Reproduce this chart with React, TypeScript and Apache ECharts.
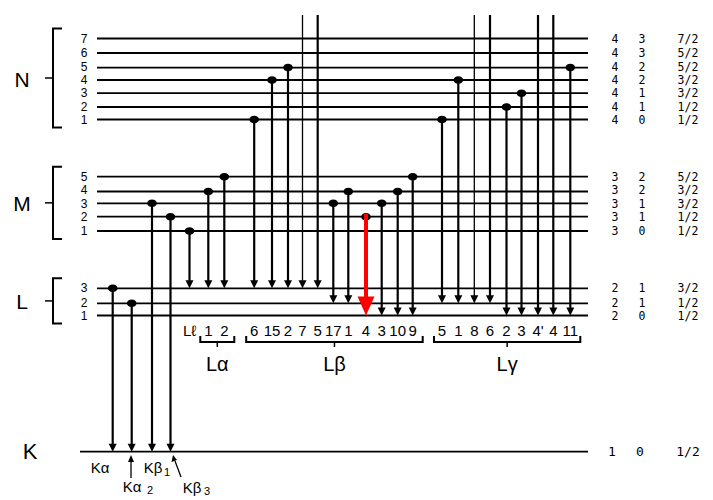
import React, { useEffect, useRef } from 'react';
import * as echarts from 'echarts';

// Energy levels (diagram position, top = high energy)
const levelNames = ['K', 'L1', 'L2', 'L3', 'M1', 'M2', 'M3', 'M4', 'M5', 'N1', 'N2', 'N3', 'N4', 'N5', 'N6', 'N7'];
const levelY = [451.7, 315.5, 303.3, 288.3, 231, 216.7, 203.3, 191.5, 176.7, 119.5, 107, 93.2, 80, 67.6, 53, 38.5];
const levelN = ['1', '2', '2', '2', '3', '3', '3', '3', '3', '4', '4', '4', '4', '4', '4', '4'];
const levelL = ['0', '0', '1', '1', '0', '1', '1', '2', '2', '0', '1', '1', '2', '2', '3', '3'];
const levelJ = ['1/2', '1/2', '1/2', '3/2', '1/2', '1/2', '3/2', '3/2', '5/2', '1/2', '1/2', '3/2', '3/2', '5/2', '5/2', '7/2'];
const outerShellY = 15; // O shell (beyond the top of the diagram)

const shellNames = ['N', 'M', 'L', 'K'];

// Transitions
const lineNames = ['Kα', 'Kα2', 'Kβ1', 'Kβ3', 'Lℓ', '1', '2', '6', '15', '2', '7', '5', '17', '1', '4', '3', '10', '9', '5', '1', '8', '6', '2', '3', "4'", '4', '11'];
const lineX = [112.7, 131.7, 152, 170.5, 189.5, 208.3, 224.3, 254.2, 272, 288, 302.5, 317.7, 333.3, 348.3, 366, 381.7, 397.7, 412.7, 442, 458.3, 474.3, 490, 506.5, 521.5, 538, 553.3, 570.3];
const lineFrom = ['L3', 'L2', 'M3', 'M2', 'M1', 'M4', 'M5', 'N1', 'N4', 'N5', 'O', 'O', 'M3', 'M4', 'M2', 'M3', 'M4', 'M5', 'N1', 'N4', 'O', 'O', 'N2', 'N3', 'O', 'O', 'N5'];
const lineTo = ['K', 'K', 'K', 'K', 'L3', 'L3', 'L3', 'L3', 'L3', 'L3', 'L3', 'L3', 'L2', 'L2', 'L1', 'L1', 'L1', 'L1', 'L2', 'L2', 'L2', 'L2', 'L1', 'L1', 'L1', 'L1', 'L1'];
const highlightIndex = 14; // Lβ4

// Line groups
const groupNames = ['Lα', 'Lβ', 'Lγ'];
const groupFirst = [5, 7, 18];
const groupLast = [6, 17, 26];

const yOf = (name: string) => (name === 'O' ? outerShellY : levelY[levelNames.indexOf(name)]);

const FONT = 'Liberation Sans, Arial, sans-serif';
const MONO = 'DejaVu Sans Mono, monospace';
const QN_SIZE = 11.5;
const MIN_GAP = 13.4;

// spread label positions a little so that stacked labels do not collide
function labelPositions(): number[] {
  const pos = levelY.slice();
  const order = pos.map((_, i) => i).sort((a, b) => pos[a] - pos[b]);
  for (let it = 0; it < 200; it++) {
    for (let k = 0; k < order.length - 1; k++) {
      const a = order[k];
      const b = order[k + 1];
      const gap = pos[b] - pos[a];
      if (gap < MIN_GAP) {
        const d = (MIN_GAP - gap) / 2;
        pos[a] -= d;
        pos[b] += d;
      }
    }
  }
  return pos;
}

export default function App() {
  const ref = useRef<HTMLDivElement>(null);
  useEffect(() => {
    if (!ref.current) return;
    const chart = echarts.init(ref.current, undefined, { renderer: 'svg' });

    const labelY = labelPositions();
    const levelData = levelY.map((y) => [588, y]);
    const lineData = lineX.map((x, i) => [x, yOf(lineFrom[i]), yOf(lineTo[i])]);
    const groupData = groupNames.map((_, g) => [lineX[groupFirst[g]] - 8, 342, lineX[groupLast[g]] + 10]);
    const shellData = shellNames.map((s) => {
      const ys = levelY.filter((_, i) => levelNames[i][0] === s);
      return [53, Math.min(...ys), Math.max(...ys)];
    });

    const option: any = {
      animation: false,
      backgroundColor: '#fff',
      grid: { left: 0, right: 0, top: 0, bottom: 0 },
      xAxis: { type: 'value', min: 0, max: 713, show: false },
      yAxis: { type: 'value', min: 0, max: 500, inverse: true, show: false },
      series: [
        {
          type: 'custom',
          name: 'levels',
          coordinateSystem: 'cartesian2d',
          clip: false,
          encode: { x: 0, y: 1 },
          data: levelData,
          renderItem: (params: any, api: any) => {
            const i = params.dataIndex;
            const y = api.value(1);
            const isK = levelNames[i] === 'K';
            const a = api.coord([isK ? 80 : 97, y]);
            const b = api.coord([api.value(0), y]);
            const sub = levelNames[i].slice(1);
            const children: any[] = [
              { type: 'line', shape: { x1: a[0], y1: a[1], x2: b[0], y2: b[1] }, style: { stroke: '#000', lineWidth: 1.8 } },
            ];
            const txt = (x: number, t: string, size = QN_SIZE, font = MONO) => {
              const p = api.coord([x, labelY[i]]);
              return { type: 'text', x: p[0], y: p[1], style: { text: t, fill: '#000', fontSize: size, fontFamily: font, align: 'center', verticalAlign: 'middle' } };
            };
            if (sub) children.push(txt(84, sub, QN_SIZE + 0.5, FONT));
            children.push(txt(isK ? 612 : 615, levelN[i], isK ? 13 : QN_SIZE));
            children.push(txt(isK ? 640 : 642, levelL[i], isK ? 13 : QN_SIZE));
            children.push(txt(688, levelJ[i], isK ? 13 : QN_SIZE));
            return { type: 'group', children };
          },
          z: 1,
        },
        {
          type: 'custom',
          name: 'shells',
          coordinateSystem: 'cartesian2d',
          clip: false,
          encode: { x: 0, y: [1, 2] },
          data: shellData,
          renderItem: (params: any, api: any) => {
            const s = shellNames[params.dataIndex];
            const x = api.value(0);
            const top = api.coord([x, api.value(1) - 10]);
            const bot = api.coord([x, api.value(2) + 8]);
            const mid = (top[1] + bot[1]) / 2;
            const children: any[] = [];
            if (s !== 'K') {
              children.push({
                type: 'polyline',
                shape: { points: [[top[0] + 9, top[1]], [top[0], top[1]], [bot[0], bot[1]], [bot[0] + 9, bot[1]]] },
                style: { stroke: '#000', lineWidth: 2, fill: null },
              });
              children.push({ type: 'line', shape: { x1: top[0] - 8, y1: mid, x2: top[0], y2: mid }, style: { stroke: '#000', lineWidth: 1.5 } });
              children.push({ type: 'text', x: 22, y: mid + 1, style: { text: s, fill: '#000', fontSize: 21, fontFamily: FONT, align: 'center', verticalAlign: 'middle' } });
            } else {
              const p = api.coord([30, api.value(1)]);
              children.push({ type: 'text', x: p[0], y: p[1], style: { text: s, fill: '#000', fontSize: 22, fontFamily: FONT, align: 'center', verticalAlign: 'middle' } });
            }
            return { type: 'group', children };
          },
        },
        {
          type: 'custom',
          name: 'transitions',
          coordinateSystem: 'cartesian2d',
          clip: false,
          encode: { x: 0, y: [1, 2] },
          data: lineData,
          renderItem: (params: any, api: any) => {
            const i = params.dataIndex;
            const x = api.value(0);
            const p1 = api.coord([x, api.value(1)]);
            const p2 = api.coord([x, api.value(2)]);
            const red = i === highlightIndex;
            const color = red ? '#ff0000' : '#000';
            const ah = red ? 19 : 8;
            const aw = red ? 17 : 8;
            const lw = red ? 4 : lineFrom[i] === 'O' && (i === 10 || i === 20) ? 1.3 : 2.2;
            const children: any[] = [];
            if (lineFrom[i] !== 'O') {
              children.push({ type: 'ellipse', shape: { cx: p1[0], cy: p1[1], rx: 4.8, ry: 3.8 }, style: { fill: '#000' } });
            }
            const startY = red ? p1[1] - 3 : p1[1];
            children.push({ type: 'line', shape: { x1: p1[0], y1: startY, x2: p2[0], y2: p2[1] - ah + 1 }, style: { stroke: color, lineWidth: lw } });
            children.push({
              type: 'polygon',
              shape: { points: [[p2[0] - aw / 2, p2[1] - ah], [p2[0] + aw / 2, p2[1] - ah], [p2[0], p2[1]]] },
              style: { fill: color },
            });
            if (lineTo[i] !== 'K') {
              const q = api.coord([x, 330]);
              children.push({ type: 'text', x: q[0], y: q[1], style: { text: lineNames[i], fill: '#000', fontSize: 15, fontFamily: FONT, align: 'center', verticalAlign: 'middle' } });
            }
            return { type: 'group', children };
          },
          z: 3,
        },
        {
          type: 'custom',
          name: 'groups',
          coordinateSystem: 'cartesian2d',
          clip: false,
          encode: { x: [0, 2], y: 1 },
          data: groupData,
          renderItem: (params: any, api: any) => {
            const g = params.dataIndex;
            const a = api.coord([api.value(0), api.value(1)]);
            const b = api.coord([api.value(2), api.value(1)]);
            const cx = (a[0] + b[0]) / 2;
            return {
              type: 'group',
              children: [
                {
                  type: 'polyline',
                  shape: { points: [[a[0], a[1] - 6], [a[0], a[1]], [b[0], b[1]], [b[0], b[1] - 6]] },
                  style: { stroke: '#000', lineWidth: 2, fill: null },
                },
                { type: 'line', shape: { x1: cx, y1: a[1], x2: cx, y2: a[1] + 5 }, style: { stroke: '#000', lineWidth: 1.5 } },
                { type: 'text', x: cx, y: a[1] + 22, style: { text: groupNames[g], fill: '#000', fontSize: 20, fontFamily: FONT, align: 'center', verticalAlign: 'middle' } },
              ],
            };
          },
        },
      ],
      graphic: [
        { type: 'text', x: 100, y: 467, style: { text: 'Kα', fill: '#000', fontSize: 15, fontFamily: FONT, align: 'center', verticalAlign: 'middle' } },
        { type: 'text', x: 132, y: 486, style: { text: 'Kα', fill: '#000', fontSize: 15, fontFamily: FONT, align: 'center', verticalAlign: 'middle' } },
        { type: 'text', x: 150, y: 490, style: { text: '2', fill: '#000', fontSize: 11, fontFamily: FONT, align: 'center', verticalAlign: 'middle' } },
        { type: 'text', x: 153, y: 467, style: { text: 'Kβ', fill: '#000', fontSize: 15, fontFamily: FONT, align: 'center', verticalAlign: 'middle' } },
        { type: 'text', x: 167, y: 472, style: { text: '1', fill: '#000', fontSize: 11, fontFamily: FONT, align: 'center', verticalAlign: 'middle' } },
        { type: 'text', x: 192, y: 487, style: { text: 'Kβ', fill: '#000', fontSize: 15, fontFamily: FONT, align: 'center', verticalAlign: 'middle' } },
        { type: 'text', x: 207, y: 491, style: { text: '3', fill: '#000', fontSize: 11, fontFamily: FONT, align: 'center', verticalAlign: 'middle' } },
        { type: 'line', shape: { x1: 131, y1: 478, x2: 131, y2: 461 }, style: { stroke: '#000', lineWidth: 1.3 } },
        { type: 'polygon', shape: { points: [[128, 462], [134, 462], [131, 455]] }, style: { fill: '#000' } },
        { type: 'line', shape: { x1: 181, y1: 477, x2: 175, y2: 461 }, style: { stroke: '#000', lineWidth: 1.3 } },
        { type: 'polygon', shape: { points: [[171.5, 462], [177, 460], [173, 455]] }, style: { fill: '#000' } },
      ],
    };
    chart.setOption(option);
    return () => chart.dispose();
  }, []);
  return <div ref={ref} style={{ position: 'absolute', left: 0, top: 0, width: 713, height: 500, background: '#fff' }} />;
}
